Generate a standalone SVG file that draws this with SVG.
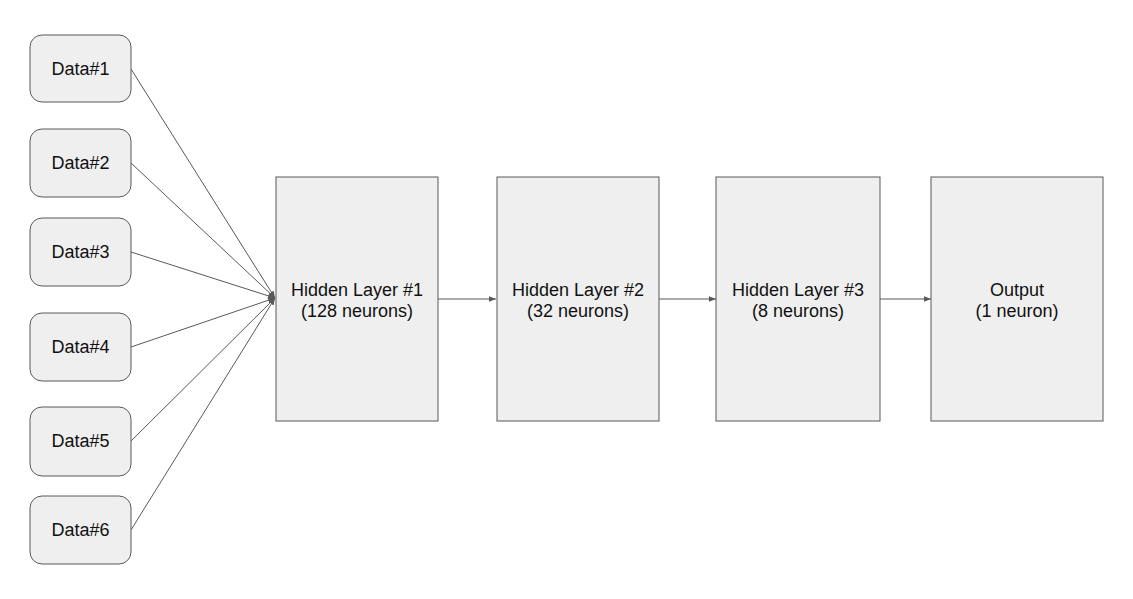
<svg xmlns="http://www.w3.org/2000/svg" width="1133" height="599" viewBox="0 0 1133 599">
<style>
.node rect{fill:#efefef;stroke:#595959;stroke-width:1}
.node text{font-family:"Liberation Sans",Arial,sans-serif;font-size:18px;fill:#111;text-anchor:middle}
.conn line{stroke:#595959;stroke-width:1}
</style>
<defs>
<marker id="ah" viewBox="0 0 10 10" refX="10" refY="5" markerWidth="7" markerHeight="7" markerUnits="userSpaceOnUse" orient="auto">
<path d="M0,1 L10,5 L0,9 z" fill="#595959"/>
</marker>
</defs>
<rect width="1133" height="599" fill="#fff"/>
<g id="connectors" class="conn">
<line x1="131" y1="69" x2="275" y2="298" marker-end="url(#ah)"/>
<line x1="131" y1="163" x2="275" y2="298" marker-end="url(#ah)"/>
<line x1="131" y1="252" x2="275" y2="298" marker-end="url(#ah)"/>
<line x1="131" y1="347" x2="275" y2="298" marker-end="url(#ah)"/>
<line x1="131" y1="441" x2="275" y2="298" marker-end="url(#ah)"/>
<line x1="131" y1="530" x2="275" y2="298" marker-end="url(#ah)"/>
<line x1="438" y1="299" x2="496" y2="299" marker-end="url(#ah)"/>
<line x1="659" y1="299" x2="716" y2="299" marker-end="url(#ah)"/>
<line x1="880" y1="299" x2="931" y2="299" marker-end="url(#ah)"/>
</g>
<g id="data1" class="node"><rect x="30" y="35" width="101" height="67" rx="12"/><text x="80.5" y="75">Data#1</text></g>
<g id="data2" class="node"><rect x="30" y="129" width="101" height="68" rx="12"/><text x="80.5" y="169">Data#2</text></g>
<g id="data3" class="node"><rect x="30" y="218" width="101" height="68" rx="12"/><text x="80.5" y="258">Data#3</text></g>
<g id="data4" class="node"><rect x="30" y="313" width="101" height="68" rx="12"/><text x="80.5" y="353">Data#4</text></g>
<g id="data5" class="node"><rect x="30" y="407" width="101" height="69" rx="12"/><text x="80.5" y="447">Data#5</text></g>
<g id="data6" class="node"><rect x="30" y="496" width="101" height="68" rx="12"/><text x="80.5" y="536">Data#6</text></g>
<g id="hidden1" class="node"><rect x="276" y="177" width="162" height="244"/><text x="357" y="296">Hidden Layer #1</text><text x="357" y="317">(128 neurons)</text></g>
<g id="hidden2" class="node"><rect x="497" y="177" width="162" height="244"/><text x="578" y="296">Hidden Layer #2</text><text x="578" y="317">(32 neurons)</text></g>
<g id="hidden3" class="node"><rect x="716" y="177" width="164" height="244"/><text x="798" y="296">Hidden Layer #3</text><text x="798" y="317">(8 neurons)</text></g>
<g id="output" class="node"><rect x="931" y="177" width="172" height="244"/><text x="1017" y="296">Output</text><text x="1017" y="317">(1 neuron)</text></g>
</svg>
